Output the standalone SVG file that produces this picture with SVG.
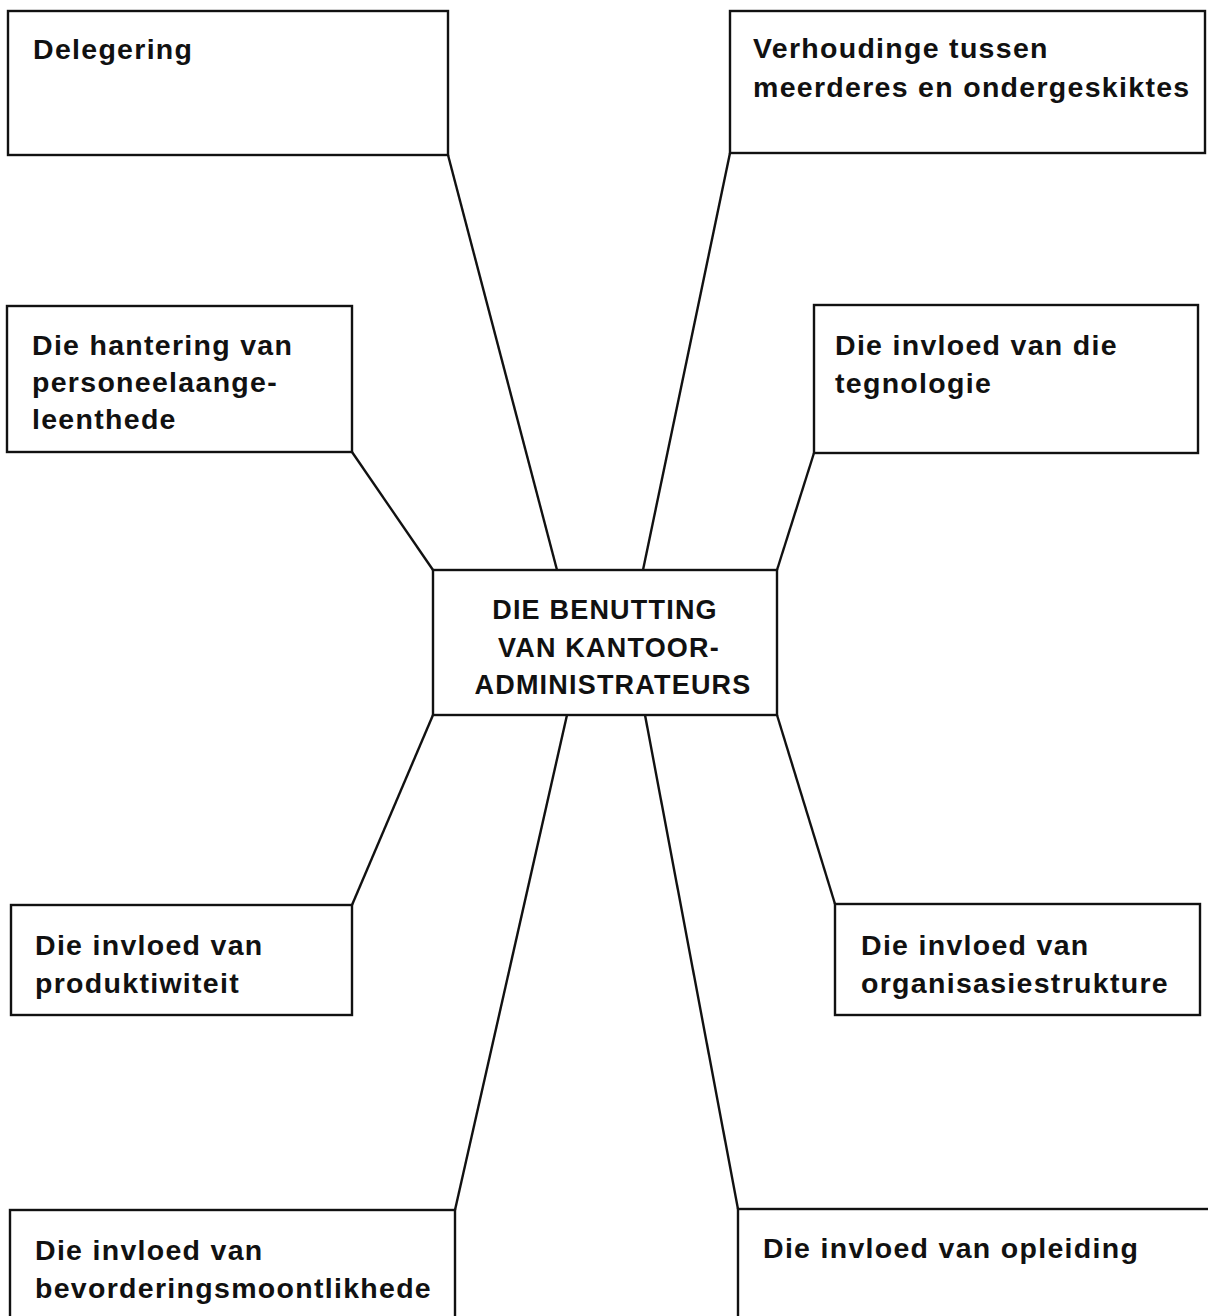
<svg xmlns="http://www.w3.org/2000/svg" width="1208" height="1316" viewBox="0 0 1208 1316">
<style>
.box{fill:#fff;stroke:#111;stroke-width:2.4}
.t{font-family:"Liberation Sans",Arial,sans-serif;font-weight:bold;font-size:28.5px;letter-spacing:1.3px;fill:#111}
.c{font-family:"Liberation Sans",Arial,sans-serif;font-weight:bold;font-size:27px;letter-spacing:1.2px;fill:#111;text-anchor:middle}
.ln{stroke:#111;stroke-width:2.4;fill:none}
</style>
<rect width="1208" height="1316" fill="#fff"/>
<g id="connectors">
<line class="ln" x1="448" y1="155" x2="557" y2="570"/>
<line class="ln" x1="730" y1="153" x2="643" y2="570"/>
<line class="ln" x1="352" y1="452" x2="433" y2="570"/>
<line class="ln" x1="814" y1="453" x2="777" y2="570"/>
<line class="ln" x1="433" y1="715" x2="352" y2="905"/>
<line class="ln" x1="567" y1="715" x2="455" y2="1210"/>
<line class="ln" x1="645" y1="715" x2="738" y2="1209"/>
<line class="ln" x1="777" y1="715" x2="835" y2="904"/>
</g>
<g id="delegering">
<rect class="box" x="8" y="11" width="440" height="144"/>
<text class="t" x="33" y="59">Delegering</text>
</g>
<g id="verhoudinge">
<rect class="box" x="730" y="11" width="475" height="142"/>
<text class="t" x="753" y="58">Verhoudinge tussen</text>
<text class="t" x="753" y="97">meerderes en ondergeskiktes</text>
</g>
<g id="hantering">
<rect class="box" x="7" y="306" width="345" height="146"/>
<text class="t" x="32" y="355">Die hantering van</text>
<text class="t" x="32" y="392">personeelaange-</text>
<text class="t" x="32" y="429">leenthede</text>
</g>
<g id="tegnologie">
<rect class="box" x="814" y="305" width="384" height="148"/>
<text class="t" x="835" y="355">Die invloed van die</text>
<text class="t" x="835" y="393">tegnologie</text>
</g>
<g id="center">
<rect class="box" x="433" y="570" width="344" height="145"/>
<text class="c" x="605" y="619">DIE BENUTTING</text>
<text class="c" x="609" y="657">VAN KANTOOR-</text>
<text class="c" x="613" y="694">ADMINISTRATEURS</text>
</g>
<g id="produktiwiteit">
<rect class="box" x="11" y="905" width="341" height="110"/>
<text class="t" x="35" y="955">Die invloed van</text>
<text class="t" x="35" y="993">produktiwiteit</text>
</g>
<g id="organisasiestrukture">
<rect class="box" x="835" y="904" width="365" height="111"/>
<text class="t" x="861" y="955">Die invloed van</text>
<text class="t" x="861" y="993">organisasiestrukture</text>
</g>
<g id="bevordering">
<rect class="box" x="10" y="1210" width="445" height="120"/>
<text class="t" x="35" y="1260">Die invloed van</text>
<text class="t" x="35" y="1298">bevorderingsmoontlikhede</text>
</g>
<g id="opleiding">
<rect class="box" x="738" y="1209" width="480" height="120"/>
<text class="t" x="763" y="1258">Die invloed van opleiding</text>
</g>
</svg>
